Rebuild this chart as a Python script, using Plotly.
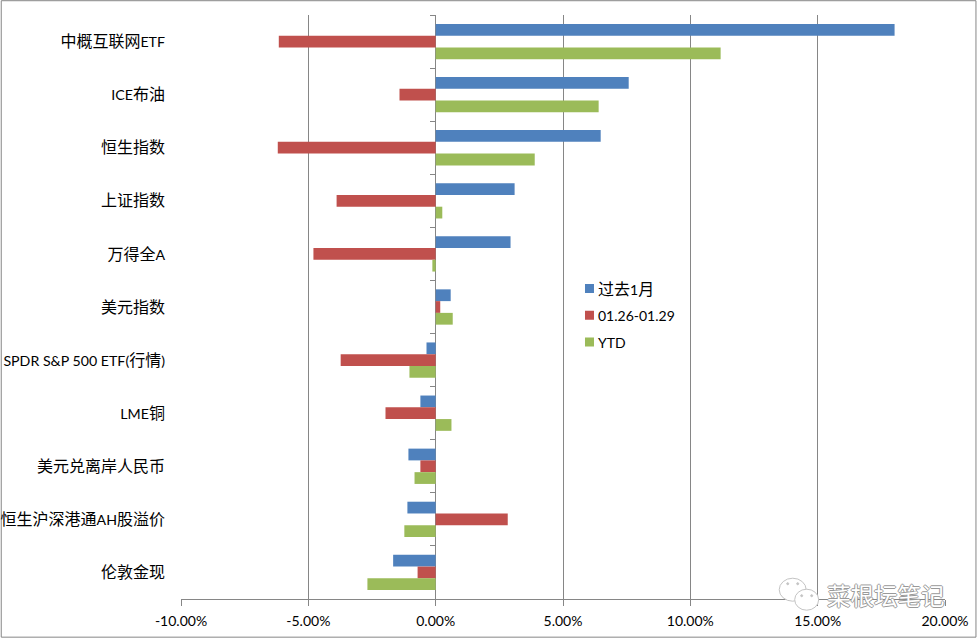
import re
import plotly.graph_objects as go

categories = ["中概互联网ETF", "ICE布油", "恒生指数", "上证指数", "万得全A", "美元指数",
              "SPDR S&P 500 ETF(行情)", "LME铜", "美元兑离岸人民币", "恒生沪深港通AH股溢价", "伦敦金现"]
past_month = [18.02, 7.58, 6.48, 3.10, 2.94, 0.59, -0.36, -0.60, -1.07, -1.11, -1.67]
week = [-6.16, -1.42, -6.20, -3.89, -4.80, 0.18, -3.73, -1.97, -0.60, 2.83, -0.71]
ytd = [11.19, 6.40, 3.89, 0.26, -0.13, 0.67, -1.03, 0.62, -0.83, -1.23, -2.68]
series_names = ["过去1月", "01.26-01.29", "YTD"]
series_colors = ["#4F81BD", "#C0504D", "#9BBB59"]
x_ticks = [-10, -5, 0, 5, 10, 15, 20]
x_labels = ["-10.00%", "-5.00%", "0.00%", "5.00%", "10.00%", "15.00%", "20.00%"]

W, H = 977, 638
L, R, T, B = 180.5, 31.5, 14.8, 38.7
FONT = "Lato, 'Noto Sans CJK SC', sans-serif"
GRAY = "#868686"
MARK = "#C4C4C4"


def latin_small(text, size):
    """Calibri-like Latin runs are narrower than the CJK text beside them."""
    return re.sub(r"([\x20-\x7e]+)", lambda m: f'<span style="font-size:{size}px">{m.group(1)}</span>', text)


def px(x): return (x - L) / (W - L - R)
def py(y): return 1 - (y - T) / (H - T - B)


fig = go.Figure()
for name, vals, col in zip(series_names, [past_month, week, ytd], series_colors):
    fig.add_trace(go.Bar(name=latin_small(name, 14), y=categories, x=vals, orientation="h",
                         marker=dict(color=col, line=dict(width=0)), legendgroup=name))
fig.add_trace(go.Scatter(y=categories, x=[0] * len(categories), yaxis="y2", mode="none",
                         showlegend=False, hoverinfo="skip"))

shapes = [dict(type="rect", xref="paper", yref="paper", x0=px(0.5), x1=px(976.5), y0=py(637.5), y1=py(0.5),
               line=dict(color=GRAY, width=1), fillcolor="rgba(0,0,0,0)", layer="below")]


def oval(cx, cy, rx, ry, fill="#FFFFFF", line=MARK):
    return dict(type="circle", xref="paper", yref="paper", x0=px(cx - rx), x1=px(cx + rx),
                y0=py(cy + ry), y1=py(cy - ry), line=dict(color=line, width=1), fillcolor=fill)


shapes += [oval(793, 590, 13.5, 11.5), oval(807, 600, 12, 10.5),
           oval(788, 584, 1, 1, MARK), oval(798, 584, 1, 1, MARK),
           oval(802, 596, 1, 1, MARK), oval(812, 596, 1, 1, MARK)]

fig.update_layout(
    width=W, height=H, margin=dict(l=L, r=R, t=T, b=B, autoexpand=False),
    paper_bgcolor="white", plot_bgcolor="white", barmode="group", bargap=0.335, bargroupgap=0,
    font=dict(family=FONT, size=16, color="#000000"),
    xaxis=dict(range=[-10, 20], tickvals=x_ticks, ticktext=x_labels, showgrid=True, gridcolor=GRAY,
               gridwidth=1, zeroline=False, showline=True, linecolor=GRAY, ticks="outside", ticklen=6,
               tickcolor=GRAY, tickfont=dict(size=14), ticklabelstandoff=3, fixedrange=True),
    yaxis=dict(type="category", categoryorder="array", categoryarray=categories, range=[10.5, -0.5],
               tickvals=categories, ticktext=[latin_small(c, 14.2) for c in categories],
               showgrid=False, zeroline=False, showline=False, ticks="", ticklabelstandoff=15,
               tickfont=dict(size=16), automargin=False, fixedrange=True),
    yaxis2=dict(type="category", categoryorder="array", categoryarray=categories, range=[10.5, -0.5],
                overlaying="y", anchor="free", position=1 / 3, side="left", tickson="boundaries",
                ticks="outside", ticklen=6, tickcolor=GRAY, showticklabels=False, showgrid=False,
                zeroline=False, showline=False, fixedrange=True),
    legend=dict(x=px(569.5), y=py(271.5), xanchor="left", yanchor="top", tracegroupgap=3,
                bgcolor="rgba(255,255,255,0)", font=dict(size=16)),
    shapes=shapes,
    annotations=[dict(text="菜根坛笔记", xref="paper", yref="paper", x=px(886), y=py(595), showarrow=False,
                      xanchor="center", yanchor="middle",
                      font=dict(family="'Noto Sans CJK SC'", size=23.5, color="#FFFFFF",
                                shadow="1px 0 #999,-1px 0 #999,0 1px #999,0 -1px #999"))],
)

post = """
document.body.style.margin='0';
document.querySelectorAll('.legend .legendtext').forEach(function(t){
  t.setAttribute('x','28.5');
  t.querySelectorAll('tspan[x]').forEach(function(s){s.setAttribute('x','28.5');});
});
document.querySelectorAll('.legend .legendpoints path').forEach(function(p){
  p.setAttribute('d','M4.5,4.5H-4.5V-4.5H4.5Z');
});
"""
fig.write_html("out.html", post_script=post, config=dict(displayModeBar=False))
